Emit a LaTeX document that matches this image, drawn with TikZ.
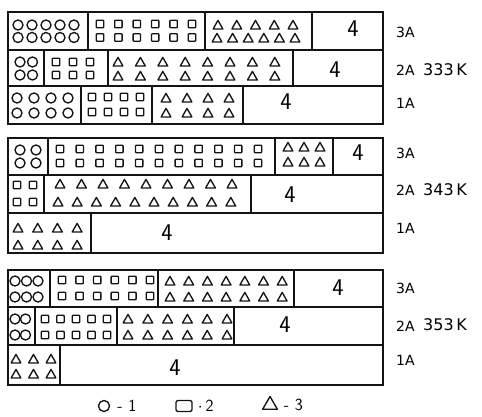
\documentclass[tikz,border=0pt]{standalone}
\usepackage{fontspec}
\usepackage{xcolor}
\usepackage{tikz}
\usetikzlibrary{positioning,shapes.geometric}
\newfontfamily\lblfont{DejaVu Sans}
\definecolor{ink}{RGB}{20,20,20}
\tikzset{
  cellbox/.style={draw=ink,line width=1.7pt},
  symline/.style={draw=ink,line width=1.35pt,line join=round},
  rowlab/.style={anchor=west,inner sep=0pt,font=\lblfont\fontsize{14}{14}\selectfont},
  templab/.style={anchor=west,inner sep=0pt,font=\lblfont\fontsize{16}{16}\selectfont},
  rest/.style={inner sep=0pt,font=\sffamily\fontsize{24}{24}\selectfont},
  legtext/.style={inner sep=0pt,font=\sffamily\fontsize{17}{17}\selectfont}
}
% rows of symbols: x of first, step, count, y
\newcommand{\circrow}[4]{\foreach \k in {1,...,#3}{\draw[symline] ({#1+(\k-1)*#2},#4) circle (5pt);}}
\newcommand{\sqrow}[4]{\foreach \k in {1,...,#3}{\draw[symline,rounded corners=0.7pt] ({#1+(\k-1)*#2-3.7},{#4-3.7}) rectangle ++(7.4,7.4);}}
\newcommand{\trirow}[4]{\foreach \k in {1,...,#3}{\draw[symline] ({#1+(\k-1)*#2},{#4-4.6}) -- ++(4.9,8.6) -- ++(-9.8,0) -- cycle;}}

\begin{document}
\begin{tikzpicture}[x=1pt,y=-1pt]
  \useasboundingbox (0,0) rectangle (482,417);
  % 333 K
  \draw[cellbox] (8,12) rectangle (88,50);
  \draw[cellbox] (88,12) rectangle (205,50);
  \draw[cellbox] (205,12) rectangle (312,50);
  \draw[cellbox] (312,12) rectangle (383,50);
  \circrow{18}{14}{5}{25} \circrow{18}{14}{5}{37.5}
  \sqrow{100}{18.4}{6}{24} \sqrow{100}{18.4}{6}{37.5}
  \trirow{218}{18.75}{5}{25} \trirow{217}{15.6}{6}{38}
  \node[rest] (f31) at (353,29) {4};
  \draw[cellbox] (8,50) rectangle (44,86);
  \draw[cellbox] (44,50) rectangle (108,86);
  \draw[cellbox] (108,50) rectangle (293,86);
  \draw[cellbox] (293,50) rectangle (383,86);
  \circrow{20}{12.5}{2}{62} \circrow{20}{12.5}{2}{75}
  \sqrow{56}{17}{3}{62} \sqrow{56}{17}{3}{75}
  \trirow{118}{22.4}{8}{62} \trirow{118}{22.4}{8}{76}
  \node[rest] (f21) at (335,70) {4};
  \draw[cellbox] (8,86) rectangle (81,124);
  \draw[cellbox] (81,86) rectangle (152,124);
  \draw[cellbox] (152,86) rectangle (243,124);
  \draw[cellbox] (243,86) rectangle (383,124);
  \circrow{17}{17}{4}{98} \circrow{17}{17}{4}{113}
  \sqrow{92}{16}{4}{97} \sqrow{92}{16}{4}{112}
  \trirow{166}{21}{4}{98} \trirow{166}{21}{4}{113}
  \node[rest] (f11) at (286,102) {4};
  \node[rowlab] (a31) at (396,32) {3A};
  \node[rowlab] (a21) at (396,70) {2A};
  \node[rowlab] (a11) at (396,103) {1A};
  \node[templab] (t1) at (423,70) {333\,K};
  % 343 K
  \draw[cellbox] (8,138) rectangle (48,175);
  \draw[cellbox] (48,138) rectangle (275,175);
  \draw[cellbox] (275,138) rectangle (333,175);
  \draw[cellbox] (333,138) rectangle (383,175);
  \circrow{20}{16}{2}{150} \circrow{20}{16}{2}{163}
  \sqrow{60}{19.8}{11}{149} \sqrow{60}{19.8}{11}{163}
  \trirow{288}{16}{3}{147} \trirow{288}{16}{3}{162}
  \node[rest] (f32) at (358,153) {4};
  \draw[cellbox] (8,175) rectangle (44,213);
  \draw[cellbox] (44,175) rectangle (251,213);
  \draw[cellbox] (251,175) rectangle (383,213);
  \sqrow{17}{16}{2}{185} \sqrow{17}{16}{2}{202}
  \trirow{60}{21.5}{9}{184} \trirow{58}{19.2}{10}{202}
  \node[rest] (f22) at (290,195) {4};
  \draw[cellbox] (8,213) rectangle (91,253);
  \draw[cellbox] (91,213) rectangle (383,253);
  \trirow{18}{19.7}{4}{228} \trirow{18}{19.7}{4}{245}
  \node[rest] (f12) at (167,233) {4};
  \node[rowlab] (a32) at (396,153) {3A};
  \node[rowlab] (a22) at (396,190) {2A};
  \node[rowlab] (a12) at (396,228) {1A};
  \node[templab] (t2) at (423,190) {343\,K};
  % 353 K
  \draw[cellbox] (8,270) rectangle (50,307);
  \draw[cellbox] (50,270) rectangle (158,307);
  \draw[cellbox] (158,270) rectangle (294,307);
  \draw[cellbox] (294,270) rectangle (383,307);
  \circrow{15}{11.5}{3}{281} \circrow{15}{11.5}{3}{297}
  \sqrow{62}{17.6}{6}{280} \sqrow{62}{17.6}{6}{296}
  \trirow{170}{18.7}{7}{281} \trirow{170}{18.7}{7}{297}
  \node[rest] (f33) at (338,288) {4};
  \draw[cellbox] (8,307) rectangle (35,345);
  \draw[cellbox] (35,307) rectangle (117,345);
  \draw[cellbox] (117,307) rectangle (234,345);
  \draw[cellbox] (234,307) rectangle (383,345);
  \circrow{15}{10.5}{2}{319} \circrow{15}{10.5}{2}{335}
  \sqrow{45}{15.5}{5}{319} \sqrow{45}{15.5}{5}{335}
  \trirow{128}{19.8}{6}{319} \trirow{128}{19.8}{6}{335}
  \node[rest] (f23) at (285,325) {4};
  \draw[cellbox] (8,345) rectangle (60,385);
  \draw[cellbox] (60,345) rectangle (383,385);
  \trirow{16}{17.5}{3}{359} \trirow{16}{17.5}{3}{374}
  \node[rest] (f13) at (175,368) {4};
  \node[rowlab] (a33) at (396,288) {3A};
  \node[rowlab] (a23) at (396,326) {2A};
  \node[rowlab] (a13) at (396,360) {1A};
  \node[templab] (t3) at (423,325) {353\,K};
  % legend
  \node[circle,symline,minimum size=11pt,inner sep=0pt] (leg1) at (104,406) {};
  \node[legtext,right=7pt of leg1] (leg1t) {-\,\,1};
  \node[rectangle,symline,rounded corners=2pt,minimum width=16pt,minimum height=11pt,inner sep=0pt] (leg2) at (184,406) {};
  \node[legtext,right=5pt of leg2] (leg2t) {$\cdot$\,2};
  \node[regular polygon,regular polygon sides=3,symline,minimum size=17pt,inner sep=0pt] (leg3) at (270,405) {};
  \node[legtext,right=8pt of leg3] (leg3t) {-\,\,3};
\end{tikzpicture}
\end{document}
